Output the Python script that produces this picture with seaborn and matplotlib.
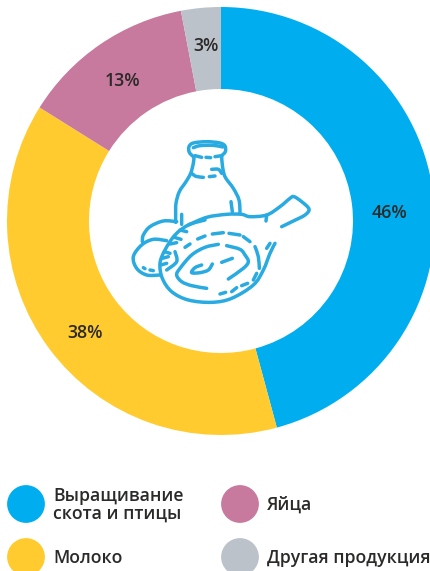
import matplotlib.pyplot as plt
import numpy as np
import pandas as pd
import seaborn as sns
from matplotlib.path import Path
from matplotlib.patches import PathPatch

# Data
categories = ["Выращивание\nскота и птицы", "Молоко", "Яйца", "Другая продукция"]
shares = [45.8, 38.1, 13.1, 3.0]
colors = ["#00AEEF", "#FFCB2F", "#C7799E", "#BBC2C9"]

W, H = 431, 571
TEXT = "#2B2A29"
ICON = "#29ABE2"

sns.set_theme(style="white")
plt.rcParams["font.family"] = ["Open Sans", "DejaVu Sans"]

fig = plt.figure(figsize=(W / 100, H / 100), dpi=100)
ax = fig.add_axes([0, 0, 1, 1])


def py(y):
    return H - y


# Donut
ax.pie(
    shares,
    colors=sns.color_palette(colors),
    startangle=90,
    counterclock=False,
    center=(221, py(221)),
    radius=214,
    wedgeprops={"width": 82, "linewidth": 0},
)

# Percent labels are hand placed in the original
label_xy = [(390, 213), (85, 333), (122, 81), (206, 46)]
for share, (x, y) in zip(shares, label_xy):
    ax.text(x, py(y), f"{share:.0f}%", ha="center", va="center",
            fontsize=12.8, fontweight="semibold", color=TEXT)

# Legend
legend_xy = [(26, 504), (26, 557), (240, 504), (240, 557)]
legend_df = pd.DataFrame({
    "x": [p[0] for p in legend_xy],
    "y": [py(p[1]) for p in legend_xy],
    "category": categories,
})
sns.scatterplot(
    data=legend_df, x="x", y="y", hue="category",
    palette=colors, s=740, linewidth=0, legend=False, ax=ax, clip_on=False,
)
for cat, (x, y) in zip(categories, legend_xy):
    ax.text(x + 27, py(y + 1), cat, ha="left", va="center", linespacing=1.0,
            fontsize=12.7, fontweight="semibold", color=TEXT)


# Icon, traced strokes in 3x crop coordinates
def stroke(points, origin, lw=2.5):
    pts = np.array(points, dtype=float)
    pts = np.column_stack([origin[0] + pts[:, 0] / 3, py(origin[1] + pts[:, 1] / 3)])
    verts = [pts[0]]
    codes = [Path.MOVETO]
    ext = np.vstack([pts[0], pts, pts[-1]])
    for i in range(1, len(ext) - 2):
        p0, p1, p2, p3 = ext[i - 1], ext[i], ext[i + 1], ext[i + 2]
        verts += [p1 + (p2 - p0) / 6, p2 - (p3 - p1) / 6, p2]
        codes += [Path.CURVE4] * 3
    ax.add_patch(PathPatch(Path(verts, codes), fill=False, edgecolor=ICON,
                           linewidth=lw, capstyle="round", joinstyle="round"))


bottle_strokes = [
    [(17, 262), (17, 240), (18, 205), (28, 170), (48, 140), (62, 115), (70, 85), (72, 65)],
    [(70, 65), (58, 52), (57, 35), (70, 24), (110, 20), (150, 24), (165, 33), (166, 50), (155, 62)],
    [(70, 38), (90, 32), (130, 31), (158, 36)],
    [(75, 62), (95, 67)],
    [(108, 67), (122, 68)],
    [(135, 65), (155, 62)],
    [(155, 62), (157, 90), (165, 125), (190, 160), (207, 195), (210, 232)],
    [(65, 115), (78, 124), (100, 127)],
    [(118, 125), (135, 123)],
    [(125, 103), (145, 103), (155, 115)],
    [(183, 200), (187, 230)],
    [(35, 238), (35, 268)],
    # leg top and bone
    [(55, 270), (110, 247), (170, 238), (215, 238), (240, 245), (290, 240), (330, 215),
     (360, 190), (372, 185), (395, 200), (417, 222), (405, 240), (370, 258), (335, 275)],
    [(290, 240), (288, 258)],
]
leg_strokes = [
    [(240, 0), (190, 15), (150, 45), (120, 90), (105, 130), (112, 175), (140, 215),
     (190, 240), (260, 247), (320, 235), (385, 195), (415, 150), (435, 100), (450, 70)],
    # eggs
    [(155, 5), (115, 3), (75, 20), (55, 45), (52, 65)],
    [(125, 62), (85, 58), (50, 75), (25, 110), (35, 145), (65, 165), (105, 165)],
    [(55, 143), (60, 146)],
    [(75, 150), (85, 152)],
    # dashed ring
    [(180, 82), (195, 72)],
    [(218, 57), (240, 48)],
    [(262, 42), (295, 38)],
    [(312, 40), (345, 45)],
    [(355, 50), (375, 65)],
    [(390, 80), (400, 110), (403, 145)],
    [(395, 160), (385, 180)],
    [(368, 190), (350, 197)],
    [(335, 203), (320, 215)],
    [(302, 217), (285, 222)],
    # meat
    [(280, 73), (240, 82), (200, 105), (165, 145), (155, 165), (170, 185), (200, 197), (245, 205)],
    [(305, 77), (345, 88), (360, 105), (370, 125), (355, 145), (310, 177)],
    [(230, 135), (210, 143), (200, 158), (225, 158), (250, 150), (262, 132)],
    [(290, 127), (322, 115)],
    # hatching on the left
    [(165, 30), (185, 35)],
    [(148, 52), (168, 58)],
    [(135, 72), (155, 68)],
    [(150, 95), (155, 125), (125, 150)],
    [(118, 95), (135, 100)],
    [(112, 115), (130, 110)],
    [(108, 135), (125, 130)],
    [(435, 70), (425, 85)],
]
for s in bottle_strokes:
    stroke(s, (170, 135))
for s in leg_strokes:
    stroke(s, (125, 220))

ax.set_xlim(0, W)
ax.set_ylim(0, H)
ax.set_aspect("equal")
ax.axis("off")

fig.savefig("out.png", dpi=100)
